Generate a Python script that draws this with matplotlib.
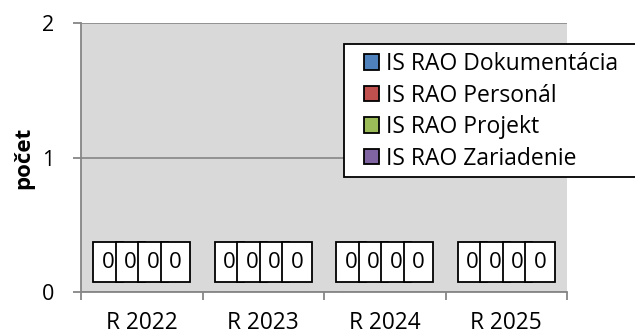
import matplotlib
matplotlib.use("Agg")
import matplotlib.pyplot as plt
import numpy as np
from matplotlib.patches import Patch, Rectangle

categories = ["R 2022", "R 2023", "R 2024", "R 2025"]
series_names = ["IS RAO Dokumentácia", "IS RAO Personál", "IS RAO Projekt", "IS RAO Zariadenie"]
series_values = [
    [0, 0, 0, 0],
    [0, 0, 0, 0],
    [0, 0, 0, 0],
    [0, 0, 0, 0],
]
series_colors = ["#4f81bd", "#c0504d", "#9bbb59", "#8064a2"]
y_ticks = [0, 1, 2]

plt.rcParams['font.family'] = ['Open Sans', 'DejaVu Sans']

W, H = 635, 335
fig = plt.figure(figsize=(W/100, H/100), dpi=100)
ax = fig.add_axes([81/W, 1-292/H, (567-81)/W, (292-23)/H])
ax.set_facecolor("#d9d9d9")

x = np.arange(len(categories))
bw = 0.185
label_y = 0.223
for i, (name, vals, col) in enumerate(zip(series_names, series_values, series_colors)):
    xs = x + (i - 1.5) * bw
    ax.bar(xs, vals, width=bw, color=col, edgecolor="black", linewidth=0.8)
    for xi, v in zip(xs, vals):
        ax.text(xi, v + label_y, f"{v}", ha="center", va="center", fontsize=16,
                bbox=dict(boxstyle="square,pad=0.38", mutation_aspect=1.1,
                          facecolor="white", edgecolor="black", linewidth=1.3),
                zorder=5)

ax.set_xlim(-0.5, len(categories) - 0.5)
ax.set_ylim(0, 2)
ax.set_yticks(y_ticks)
ax.set_yticklabels([str(t) for t in y_ticks], fontsize=15.5)
ax.yaxis.grid(True, color="#8c8c8c", linewidth=1.3)
ax.set_axisbelow(True)

ax.set_xticks(x)
ax.set_xticklabels(categories, fontsize=16.3)
ax.set_xticks(np.arange(-0.5, len(categories)), minor=True)
ax.tick_params(axis="x", which="major", length=0, pad=14)
ax.tick_params(axis="x", which="minor", length=6, color="#868686", width=1.3, direction="out")
ax.tick_params(axis="y", length=6, color="#868686", width=1.3, pad=13)

for s in ["top", "right"]:
    ax.spines[s].set_visible(False)
for s in ["left", "bottom"]:
    ax.spines[s].set_color("#868686")
    ax.spines[s].set_linewidth(1.3)

ax.set_ylabel("počet", fontsize=16, fontweight="bold", va="center", ha="center",
              rotation=90, rotation_mode="anchor")
ax.yaxis.set_label_coords(-0.117, 0.5)

# legend frame (Excel-style, extends to the right edge)
frame = Rectangle((344/W, 1-177/H), (W+10-344)/W, (177-44)/H, transform=fig.transFigure,
                  facecolor="white", edgecolor="black", linewidth=1.3, zorder=4, clip_on=False)
fig.add_artist(frame)

fs_leg = 16.5
handles = [Patch(facecolor=c, edgecolor="black", linewidth=1.3) for c in series_colors]
leg = fig.legend(handles, series_names, loc="upper left",
                 bbox_to_anchor=(364/W, 1-52/H), fontsize=fs_leg,
                 frameon=False,
                 handlelength=0.66, handleheight=0.66, handletextpad=0.28,
                 labelspacing=0.33, borderpad=0, borderaxespad=0)
leg.set_zorder(6)

fig.savefig("out.png", dpi=100)
